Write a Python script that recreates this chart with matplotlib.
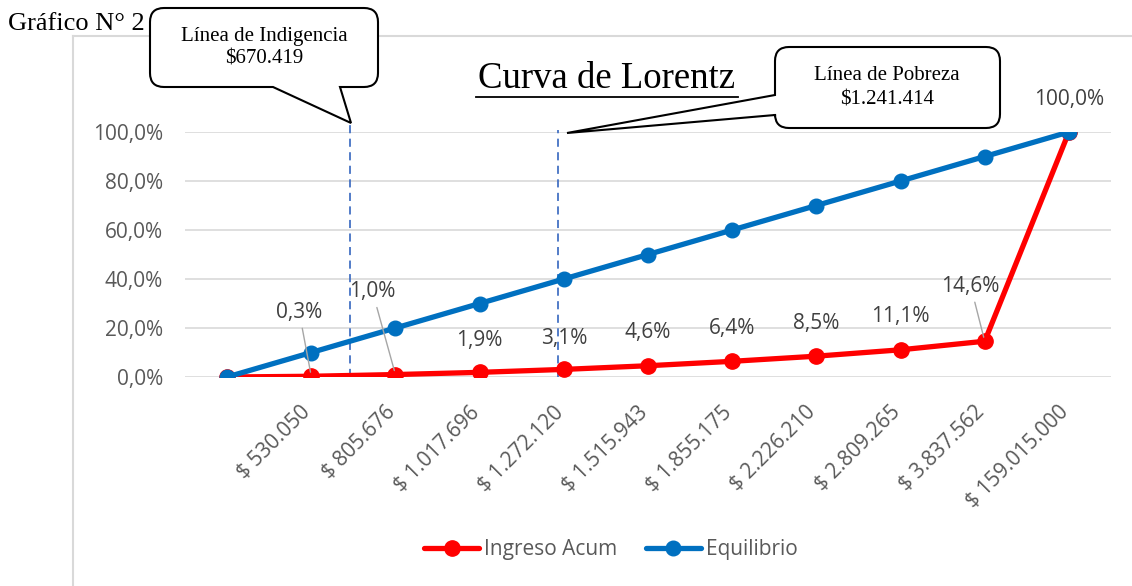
import numpy as np
import matplotlib
matplotlib.use("Agg")
import matplotlib.pyplot as plt
from matplotlib.path import Path
from matplotlib.patches import PathPatch
from matplotlib.lines import Line2D
from matplotlib.transforms import Affine2D, ScaledTranslation

W, H = 1132, 586

# datos
categorias = ["", "$ 530.050", "$ 805.676", "$ 1.017.696", "$ 1.272.120",
              "$ 1.515.943", "$ 1.855.175", "$ 2.226.210", "$ 2.809.265",
              "$ 3.837.562", "$ 159.015.000"]
ingreso_acum = [0.0, 0.3, 1.0, 1.9, 3.1, 4.6, 6.4, 8.5, 11.1, 14.6, 100.0]
equilibrio = [0, 10, 20, 30, 40, 50, 60, 70, 80, 90, 100]
linea_indigencia = 1.46   # posicion en el eje de categorias
linea_pobreza = 3.93

# desplazamiento de etiquetas (pixeles)
etiq_dx = [0, -12, -23, 0, 0, 0, 0, 0, 0, -14, 0]
etiq_dy = [0, 64, 83, 32, 31, 33, 33, 33, 33, 55, 32]
con_guia = [False, True, True, False, False, False, False, False, False, True, False]

plt.rcParams['font.family'] = ['Open Sans', 'DejaVu Sans']
fs = 15

fig = plt.figure(figsize=(W / 100, H / 100), dpi=100)
ax = fig.add_axes([185 / W, 1 - 377 / H, (1111 - 185) / W, (377 - 132) / H])

x = np.arange(len(categorias))
y_ing = np.array(ingreso_acum) / 100
y_eq = np.array(equilibrio) / 100

ax.plot(x, y_ing, color='#FF0000', lw=3.8, marker='o', ms=11,
        label='Ingreso Acum', zorder=3, solid_capstyle='round')
ax.plot(x, y_eq, color='#0070C0', lw=3.8, marker='o', ms=10.5,
        label='Equilibrio', zorder=4, solid_capstyle='round')

ax.set_xlim(-0.5, len(categorias) - 0.5)
ax.set_ylim(0, 1.0)
ax.set_yticks(np.arange(0, 1.01, 0.2))
ax.set_yticklabels([f"{v:.1f}%".replace('.', ',') for v in np.arange(0, 101, 20)])
ax.yaxis.grid(True, color='#D9D9D9', lw=1.2)
ax.set_axisbelow(True)
for s in ax.spines.values():
    s.set_visible(False)
ax.tick_params(axis='y', length=0, pad=16, labelsize=fs, labelcolor='#595959')
ax.set_xticks(x)
ax.set_xticklabels(categorias, rotation=45, ha='right', va='top',
                   rotation_mode='anchor')
ax.tick_params(axis='x', length=0, pad=18, labelsize=fs, labelcolor='#595959')
desp = ScaledTranslation(-11 / 100, 0, fig.dpi_scale_trans)
for lab in ax.get_xticklabels():
    lab.set_transform(lab.get_transform() + desp)

# etiquetas de datos
for i in range(1, len(categorias)):
    txt = f"{ingreso_acum[i]:.1f}%".replace('.', ',')
    ap = None
    if con_guia[i]:
        ap = dict(arrowstyle='-', color='#A6A6A6', lw=1, shrinkA=2, shrinkB=3)
    ax.annotate(txt, (x[i], y_ing[i]), xytext=(etiq_dx[i], etiq_dy[i]),
                textcoords='offset pixels', ha='center', va='center',
                fontsize=fs, color='#404040', arrowprops=ap, zorder=5,
                annotation_clip=False)

# lineas verticales
ax.plot([linea_indigencia, linea_indigencia], [0, 1.04], color='#4472C4',
        lw=1.3, ls=(0, (4.5, 3)), clip_on=False, zorder=2)
ax.plot([linea_pobreza, linea_pobreza], [0, 1.008], color='#4472C4',
        lw=1.3, ls=(0, (4.5, 3)), clip_on=False, zorder=2)

# marco del grafico (pixeles)
px = Affine2D().scale(1 / W, -1 / H).translate(0, 1) + fig.transFigure
fig.add_artist(Line2D([73, 73], [36, H], color='#D9D9D9', lw=1.5, transform=px))
fig.add_artist(Line2D([73, W], [36, 36], color='#D9D9D9', lw=1.5, transform=px))


def globo(x0, y0, x1, y1, r, lado, b0, b1, punta):
    v = [(x0 + r, y0), (x1 - r, y0), (x1, y0), (x1, y0 + r), (x1, y1 - r),
         (x1, y1), (x1 - r, y1)]
    c = [Path.MOVETO, Path.LINETO, Path.CURVE3, Path.CURVE3, Path.LINETO,
         Path.CURVE3, Path.CURVE3]
    if lado == 'abajo':
        v += [(b1, y1), punta, (b0, y1)]
        c += [Path.LINETO] * 3
    v += [(x0 + r, y1), (x0, y1), (x0, y1 - r)]
    c += [Path.LINETO, Path.CURVE3, Path.CURVE3]
    if lado == 'izq':
        v += [(x0, b1), punta, (x0, b0)]
        c += [Path.LINETO] * 3
    v += [(x0, y0 + r), (x0, y0), (x0 + r, y0), (x0 + r, y0)]
    c += [Path.LINETO, Path.CURVE3, Path.CURVE3, Path.CLOSEPOLY]
    fig.add_artist(PathPatch(Path(v, c), fc='white', ec='black', lw=1.5,
                             transform=px, zorder=10))


globo(150, 8, 378, 87, 14, 'abajo', 273, 340, (351, 123))
globo(775, 47, 1000, 128, 14, 'izq', 95, 115, (567, 133))

serif = ['Liberation Serif', 'DejaVu Serif']
fig.text(264 / W, 1 - 36 / H, "Línea de Indigencia", family=serif, fontsize=15,
         ha='center', va='center', zorder=11)
fig.text(264 / W, 1 - 59 / H, "$670.419", family=serif, fontsize=15,
         ha='center', va='center', zorder=11)
fig.text(887 / W, 1 - 76 / H, "Línea de Pobreza", family=serif, fontsize=15,
         ha='center', va='center', zorder=11)
fig.text(887 / W, 1 - 100 / H, "$1.241.414", family=serif, fontsize=15,
         ha='center', va='center', zorder=11)

fig.text(8 / W, 1 - 24 / H, "Gráfico N° 2", family=serif, fontsize=19,
         ha='left', va='center')
fig.text(607 / W, 1 - 79 / H, "Curva de Lorentz", family=serif, fontsize=26.5,
         ha='center', va='center')
fig.add_artist(Line2D([476, 738], [97, 97], color='black', lw=1.3, transform=px))

fig.legend(loc='center', bbox_to_anchor=(611 / W, 1 - 550 / H), ncol=2,
           frameon=False, fontsize=fs, handlelength=2.65, columnspacing=1.35,
           handletextpad=0.25, labelcolor='#595959')

fig.savefig("out.png", dpi=100)
